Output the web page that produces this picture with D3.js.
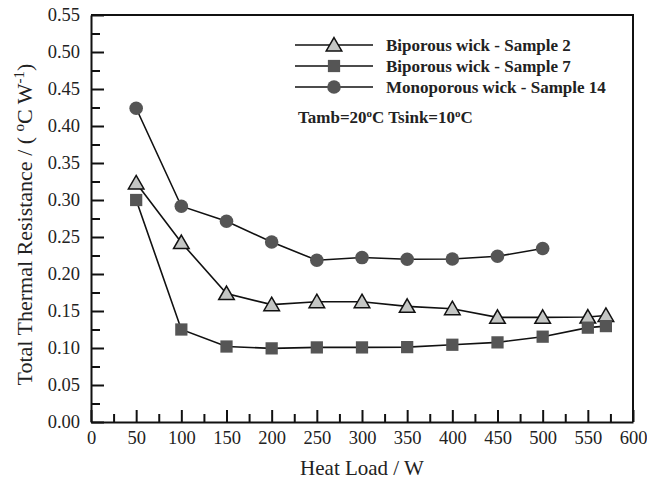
<!DOCTYPE html>
<html>
<head>
<meta charset="utf-8">
<style>
  body { margin: 0; background: #fff; }
  text { font-family: "Liberation Serif", "Times New Roman", serif; }
</style>
</head>
<body>
<div id="chart"></div>
<script src="https://cdn.jsdelivr.net/npm/d3@7"></script>
<script>
// data
var loads = [50, 100, 150, 200, 250, 300, 350, 400, 450, 500, 550, 570];
var sample2 = [0.323, 0.2425, 0.1735, 0.1586, 0.1626, 0.1626, 0.1563, 0.1531, 0.1414, 0.1414, 0.1418, 0.144];
var sample7 = [0.300, 0.125, 0.102, 0.0995, 0.1008, 0.1008, 0.1012, 0.1044, 0.1076, 0.1153, 0.1275, 0.1296];
var loads14 = [50, 100, 150, 200, 250, 300, 350, 400, 450, 500];
var sample14 = [0.424, 0.2916, 0.2713, 0.2433, 0.2185, 0.2222, 0.2199, 0.2203, 0.224, 0.2344];
var seriesNames = ["Biporous wick - Sample 2", "Biporous wick - Sample 7", "Monoporous wick - Sample 14"];
var xMajor = [0, 50, 100, 150, 200, 250, 300, 350, 400, 450, 500, 550, 600];
var xMinor = [25, 75, 125, 175, 225, 275, 325, 375, 425, 475, 525, 575];
var yMajor = [0, 0.05, 0.10, 0.15, 0.20, 0.25, 0.30, 0.35, 0.40, 0.45, 0.50, 0.55];
var yMinor = [0.025, 0.075, 0.125, 0.175, 0.225, 0.275, 0.325, 0.375, 0.425, 0.475, 0.525];

var W = 647, H = 480;
var margin = {top: 15, right: 14, bottom: 58, left: 91};
var width = W - margin.left - margin.right,
    height = H - margin.top - margin.bottom;

var svg = d3.select("#chart").append("svg")
  .attr("width", W)
  .attr("height", H);
var g = svg.append("g")
  .attr("transform", "translate(" + margin.left + "," + margin.top + ")");

var x = d3.scaleLinear().domain([0, 600]).range([0, width]);
var y = d3.scaleLinear().domain([0, 0.55]).range([height, 0]);

// frame (top and right)
g.append("path")
  .attr("d", "M0,0H" + width + "V" + height)
  .attr("fill", "none")
  .attr("stroke", "#111")
  .attr("stroke-width", 2);

// x axis, ticks inward
g.append("g")
  .attr("transform", "translate(0," + height + ")")
  .call(d3.axisBottom(x).tickValues(xMajor).tickSize(-12).tickSizeOuter(0).tickPadding(9)
    .tickFormat(d3.format("d")));
g.append("g")
  .attr("transform", "translate(0," + height + ")")
  .call(d3.axisBottom(x).tickValues(xMinor).tickSize(-8).tickSizeOuter(0).tickFormat(""))
  .select(".domain").remove();

g.append("g")
  .call(d3.axisLeft(y).tickValues(yMajor).tickSize(-13).tickSizeOuter(0).tickPadding(11)
    .tickFormat(d3.format(".2f")));
g.append("g")
  .call(d3.axisLeft(y).tickValues(yMinor).tickSize(-9).tickSizeOuter(0).tickFormat(""))
  .select(".domain").remove();

g.selectAll(".domain").attr("stroke", "#111").attr("stroke-width", 2);
g.selectAll(".tick line").attr("stroke", "#111").attr("stroke-width", 2);
g.selectAll(".tick text")
  .attr("fill", "#222")
  .style("font-size", "18.5px")
  .style("font-family", "Liberation Serif, serif");

// axis titles
svg.append("text")
  .attr("x", margin.left + width / 2)
  .attr("y", 475)
  .attr("text-anchor", "middle")
  .attr("fill", "#222")
  .style("font-size", "21px")
  .text("Heat Load / W");

var yt = svg.append("text")
  .attr("transform", "translate(32," + (margin.top + height / 2 + 6) + ") rotate(-90)")
  .attr("text-anchor", "middle")
  .attr("fill", "#222")
  .style("font-size", "22px");
yt.append("tspan").text("Total Thermal Resistance / ( ");
yt.append("tspan").attr("dy", -8).style("font-size", "15px").text("o");
yt.append("tspan").attr("dy", 8).text("C W");
yt.append("tspan").attr("dy", -8).style("font-size", "15px").text("-1");
yt.append("tspan").attr("dy", 8).text(")");

var line = d3.line()
  .x(function(d) { return x(d.load); })
  .y(function(d) { return y(d.r); });

function pairs(xs, ys) {
  return xs.map(function(v, i) { return {load: v, r: ys[i]}; });
}

var series = [
  {name: seriesNames[0], values: pairs(loads, sample2), shape: d3.symbolTriangle, fill: "#c4c6c4", stroke: "#111", size: 105},
  {name: seriesNames[1], values: pairs(loads, sample7), shape: d3.symbolSquare, fill: "#555555", stroke: "none", size: 150},
  {name: seriesNames[2], values: pairs(loads14, sample14), shape: d3.symbolCircle, fill: "#555555", stroke: "none", size: 145}
];

var s = g.selectAll(".series")
  .data(series)
  .enter().append("g")
  .attr("class", "series");

s.append("path")
  .attr("d", function(d) { return line(d.values); })
  .attr("fill", "none")
  .attr("stroke", "#111")
  .attr("stroke-width", 1.6);

s.each(function(d) {
  d3.select(this).selectAll(".pt")
    .data(d.values)
    .enter().append("path")
    .attr("class", "pt")
    .attr("transform", function(p) {
      var dy = d.shape === d3.symbolTriangle ? 1.5 : 0;
      return "translate(" + x(p.load) + "," + (y(p.r) + dy) + ")";
    })
    .attr("d", d3.symbol().type(d.shape).size(d.size))
    .attr("fill", d.fill)
    .attr("stroke", d.stroke)
    .attr("stroke-width", 1.5);
});

// legend
var legend = svg.append("g").attr("transform", "translate(295,45)");
var rows = legend.selectAll(".row")
  .data(series)
  .enter().append("g")
  .attr("transform", function(d, i) { return "translate(0," + (i * 21) + ")"; });
rows.append("line")
  .attr("x1", 0).attr("x2", 78)
  .attr("stroke", "#111").attr("stroke-width", 1.6);
rows.append("path")
  .attr("transform", function(d) { return "translate(39," + (d.shape === d3.symbolTriangle ? 1.5 : 0) + ")"; })
  .attr("d", function(d) { return d3.symbol().type(d.shape).size(d.size)(); })
  .attr("fill", function(d) { return d.fill; })
  .attr("stroke", function(d) { return d.stroke; })
  .attr("stroke-width", 1.5);
rows.append("text")
  .attr("x", 91).attr("y", 6)
  .attr("fill", "#222")
  .style("font-size", "17px")
  .style("font-weight", "bold")
  .text(function(d) { return d.name; });

var note = legend.append("text")
  .attr("x", 3).attr("y", 78)
  .attr("fill", "#222")
  .style("font-size", "17px")
  .style("font-weight", "bold");
note.append("tspan").text("Tamb=20");
note.append("tspan").attr("dy", -6).style("font-size", "11px").text("o");
note.append("tspan").attr("dy", 6).text("C Tsink=10");
note.append("tspan").attr("dy", -6).style("font-size", "11px").text("o");
note.append("tspan").attr("dy", 6).text("C");
</script>
</body>
</html>
